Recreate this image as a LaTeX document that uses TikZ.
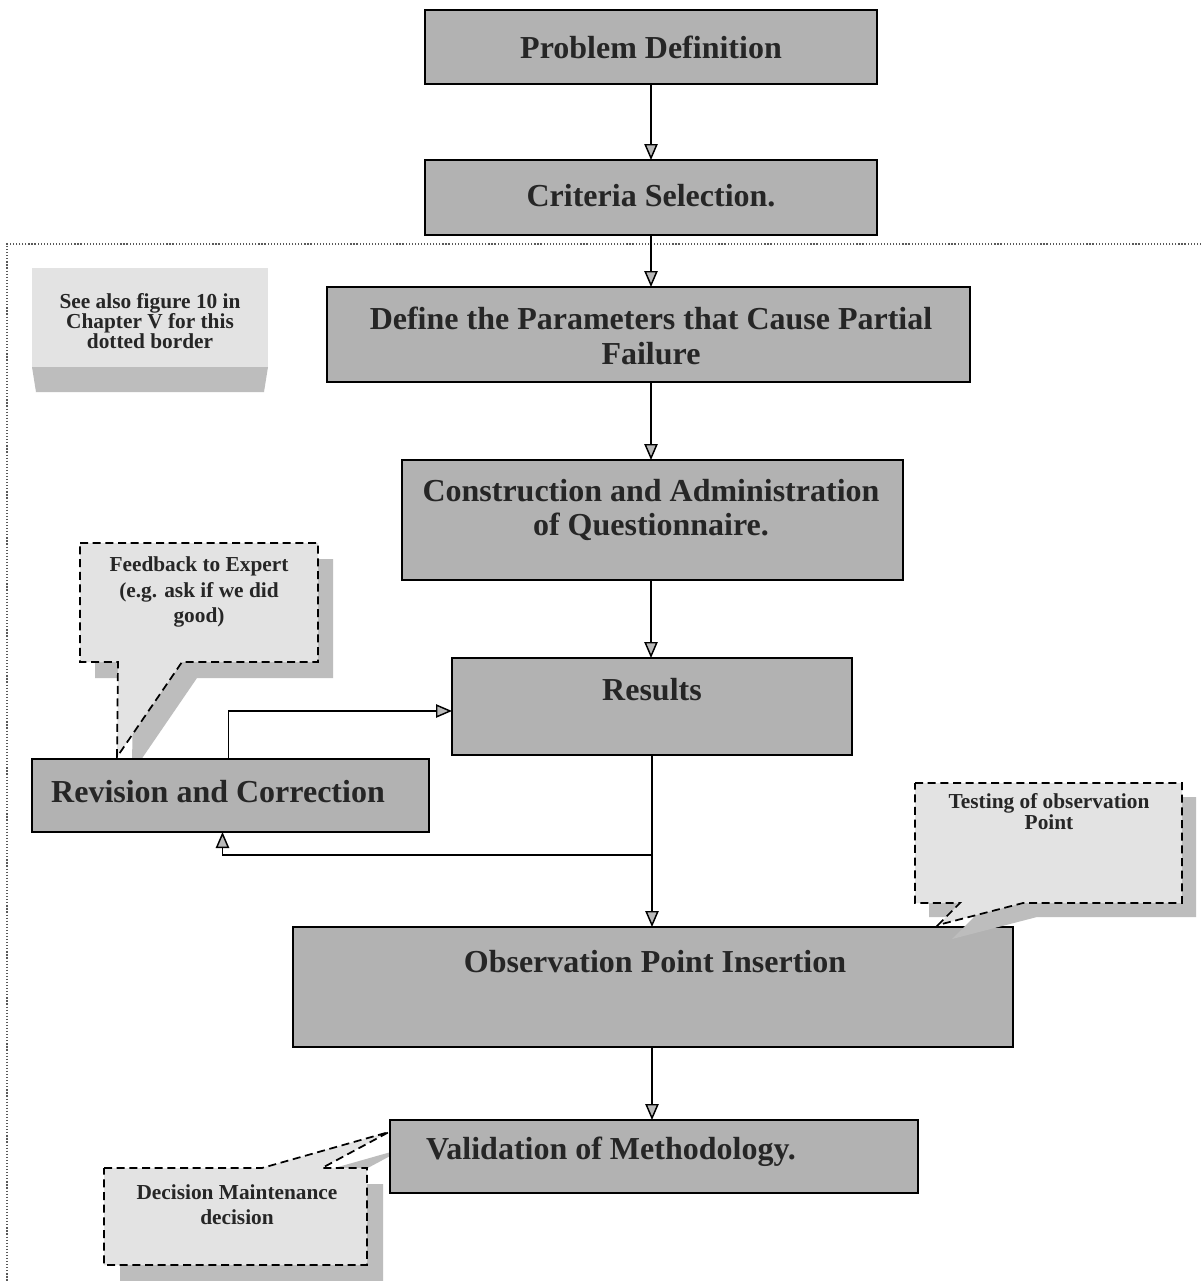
\documentclass[tikz,border=0pt]{standalone}
\usepackage{fontspec}
\setmainfont{Liberation Serif}
\usetikzlibrary{arrows.meta,calc}

\definecolor{boxfill}{gray}{0.70}
\definecolor{notefill}{gray}{0.89}
\definecolor{shadowgray}{gray}{0.74}
\definecolor{inktext}{gray}{0.15}

\tikzset{
  mainbox/.style={draw=black, line width=1.2pt, fill=boxfill, inner sep=0pt, outer sep=0pt},
  maintext/.style={font=\fontsize{24}{26}\selectfont\bfseries, text=inktext, align=center, inner sep=0pt},
  notetext/.style={font=\fontsize{16}{19}\selectfont\bfseries, text=inktext, align=center, inner sep=0pt},
  flow/.style={draw=black, line width=1.1pt, -{Triangle[length=12pt,width=10pt,fill=gray!55]}},
  note/.style={draw=black, line width=1.3pt, dash pattern=on 6pt off 3.5pt, fill=notefill, line join=miter},
  noteshadow/.style={fill=shadowgray, draw=none},
  border/.style={draw=gray!70!black, line width=0.9pt, dash pattern=on 0.9pt off 1.4pt},
}

% process box: name, left, top, right, bottom (in pixel-like units)
\newcommand{\flowbox}[5]{%
  \node[mainbox, minimum width={(#4-#2)*0.75pt}, minimum height={(#5-#3)*0.75pt}]
    (#1) at ({(#2+#4)/2},{(#3+#5)/2}) {};}

\begin{document}
\begin{tikzpicture}[x=0.75pt, y=-0.75pt]
  \useasboundingbox (0,0) rectangle (1201,1281);
  \fill[white] (0,0) rectangle (1201,1281);

  % dotted frame around the detailed stages
  \draw[border] (1201,244) -- (7,244) -- (7,1281);

  % side note with bevelled base
  \fill[notefill] (32,268) rectangle (268,367);
  \fill[shadowgray] (32,367) -- (268,367) -- (264,392) -- (36,392) -- cycle;
  \node[notetext, font=\fontsize{16}{15}\selectfont\bfseries] (seealso) at (150,321)
    {See also figure 10 in\\Chapter V for this\\dotted border};

  % main process boxes
  \flowbox{pd}{425}{10}{877}{84}
  \flowbox{cs}{425}{160}{877}{235}
  \flowbox{df}{327}{287}{970}{382}
  \flowbox{co}{402}{460}{903}{580}
  \flowbox{rs}{452}{658}{852}{755}

  % feedback callout shadow sits under the revision box
  \begin{scope}[shift={(15,16)}]
    \fill[noteshadow] (80,543) -- (318,543) -- (318,662) -- (182,662) -- (117,757)
      -- (118,662) -- (80,662) -- cycle;
  \end{scope}

  \flowbox{rv}{32}{759}{429}{832}
  \flowbox{ob}{293}{927}{1013}{1047}

  % decision callout shadow sits under the validation box
  \begin{scope}[shift={(16,16)}]
    \fill[noteshadow] (104,1168) -- (262,1168) -- (389,1132) -- (322,1168) -- (367,1168)
      -- (367,1265) -- (104,1265) -- cycle;
  \end{scope}

  \flowbox{va}{390}{1120}{918}{1193}

  % box labels
  \node[maintext] (pd-t) at (651,47) {Problem Definition};
  \node[maintext] (cs-t) at (651,196) {Criteria Selection.};
  \node[maintext] (df-t) at (651,336) {Define the Parameters that Cause Partial\\Failure};
  \node[maintext] (co-t) at (651,510) {Construction and Administration\\of Questionnaire.};
  \node[maintext] (rs-t) at (652,690) {Results};
  \node[maintext] (rv-t) at (218,792) {Revision and Correction};
  \node[maintext] (ob-t) at (655,962) {Observation Point Insertion};
  \node[maintext] (va-t) at (611,1152) {Validation of Methodology.};

  % flow connectors
  \draw[flow] (pd.south) -- (pd.south |- cs.north);
  \draw[flow] (cs.south) -- (cs.south |- df.north);
  \draw[flow] (df.south -| cs.south) -- (cs.south |- co.north);
  \draw[flow] (co.south -| cs.south) -- (cs.south |- rs.north);
  \draw[flow] (rs.south) -- (rs.south |- ob.north);
  \coordinate (split) at (652,855);
  \draw[flow] (split) -| ($(rv.south)+(-8,0)$);
  \draw[flow] ($(rv.north)+(-2,0)$) |- ($(rs.west)+(0,4.5)$);
  \draw[flow] (ob.south -| rs.south) -- (rs.south |- va.north);

  % feedback callout
  \draw[note] (80,543) -- (318,543) -- (318,662) -- (182,662) -- (117,757)
    -- (118,662) -- (80,662) -- cycle;
  \node[notetext] (fb-t) at (199,592) {Feedback to Expert\\(e.g. ask if we did\\good)};

  % testing callout, its shadow falls over the insertion box
  \begin{scope}[shift={(14,14)}]
    \fill[noteshadow] (915,783) -- (1182,783) -- (1182,903) -- (1023,903) -- (938,925)
      -- (960,903) -- (915,903) -- cycle;
  \end{scope}
  \draw[note] (915,783) -- (1182,783) -- (1182,903) -- (1023,903) -- (938,925)
    -- (960,903) -- (915,903) -- cycle;
  \node[notetext, font=\fontsize{16}{14}\selectfont\bfseries] (tp-t) at (1049,812)
    {Testing of observation\\Point};

  % decision callout
  \draw[note] (104,1168) -- (262,1168) -- (389,1132) -- (322,1168) -- (367,1168)
    -- (367,1265) -- (104,1265) -- cycle;
  \node[notetext] (dm-t) at (237,1205) {Decision Maintenance\\decision};
\end{tikzpicture}
\end{document}
